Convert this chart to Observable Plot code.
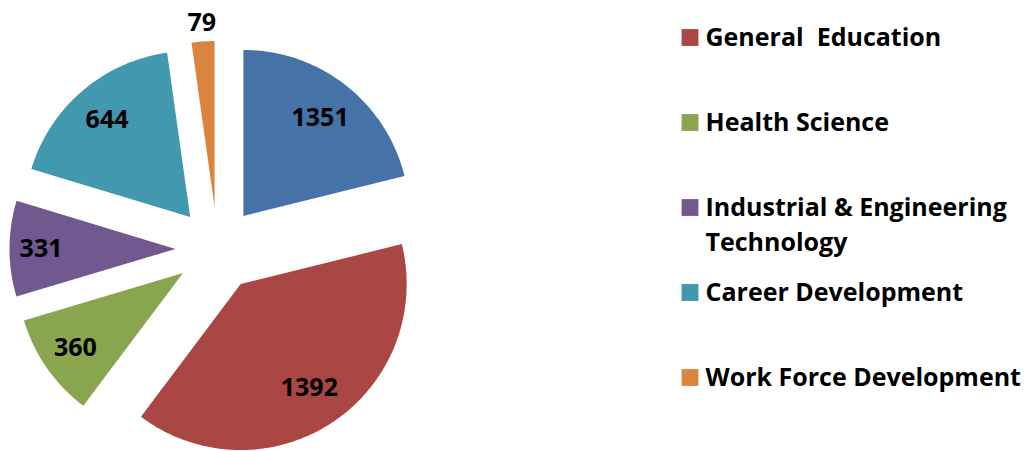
<!DOCTYPE html>
<html>
<head>
<meta charset="utf-8">
<script src="https://cdn.jsdelivr.net/npm/d3@7"></script>
<script src="https://cdn.jsdelivr.net/npm/@observablehq/plot@0.6"></script>
<style>
  html, body { margin: 0; padding: 0; background: #fff; }
  svg text { white-space: pre; }
</style>
</head>
<body>
<div id="chart"></div>
<script>
// ---- data ----
const sliceKeys = ["Unlisted", "General  Education", "Health Science", "Industrial & Engineering\nTechnology", "Career Development", "Work Force Development"];
// printed data labels
const labelValues = [1351, 1392, 360, 331, 644, 79];
// slice sizes as drawn in the picture (the blue slice is drawn at roughly 750 although labelled 1351)
const sliceSizes = [752, 1392, 360, 331, 644, 79];
const sliceColors = ["#4572A7", "#AA4643", "#89A54E", "#71588F", "#4198AF", "#DB843D"];
const legendKeys = sliceKeys.slice(1);

// ---- layout ----
const W = 1031, H = 451;
const cx = 217, cy = 248.5, R = 166, explode = 42;
const labelRadius = [0.75, 0.75, 0.79, 0.81, 0.77, 1.11];
const font = "'Open Sans', 'DejaVu Sans', sans-serif";

const arcs = d3.pie().sort(null).value(d => d)(sliceSizes);

const polyPts = [];
const labelPts = [];
arcs.forEach((a, i) => {
  const mid = (a.startAngle + a.endAngle) / 2;
  const ox = cx + explode * Math.sin(mid);
  const oy = cy - explode * Math.cos(mid);
  const key = sliceKeys[i];
  polyPts.push({key, x: ox, y: oy});
  const n = Math.max(4, Math.ceil((a.endAngle - a.startAngle) * 60));
  for (let k = 0; k <= n; k++) {
    const t = a.startAngle + (a.endAngle - a.startAngle) * k / n;
    polyPts.push({key, x: ox + R * Math.sin(t), y: oy - R * Math.cos(t)});
  }
  labelPts.push({
    x: ox + R * labelRadius[i] * Math.sin(mid),
    y: oy - R * labelRadius[i] * Math.cos(mid),
    text: String(labelValues[i])
  });
});

// legend rows
const legendX = 689.5, legendTextX = 705, legendTop = 37, legendStep = 85, lineH = 35;
const legendRows = legendKeys.map((k, i) => {
  const lines = k.split("\n").length;
  return {key: k, sy: legendTop + i * legendStep, ty: legendTop + i * legendStep + (lines - 1) * lineH / 2 - 3};
});

const chart = Plot.plot({
  width: W,
  height: H,
  margin: 0,
  x: {domain: [0, W], range: [0, W], axis: null},
  y: {domain: [0, H], range: [0, H], axis: null},
  color: {domain: sliceKeys, range: sliceColors},
  style: {background: "#fff", fontFamily: font},
  marks: [
    Plot.line(polyPts, {x: "x", y: "y", z: "key", fill: "key", stroke: "none", curve: "linear-closed"}),
    Plot.text(labelPts, {x: "x", y: "y", text: "text", fontSize: 25, fontWeight: "bold", fill: "#000", textAnchor: "middle", lineAnchor: "middle"}),
    Plot.dot(legendRows, {x: () => legendX, y: "sy", symbol: "square", r: 9.5, fill: "key", stroke: "none"}),
    Plot.text(legendRows, {x: () => legendTextX, y: "ty", text: "key", textAnchor: "start", lineAnchor: "middle", fontSize: 25, fontWeight: "bold", fill: "#000", lineHeight: 1.4})
  ]
});
document.getElementById("chart").appendChild(chart);
</script>
</body>
</html>
